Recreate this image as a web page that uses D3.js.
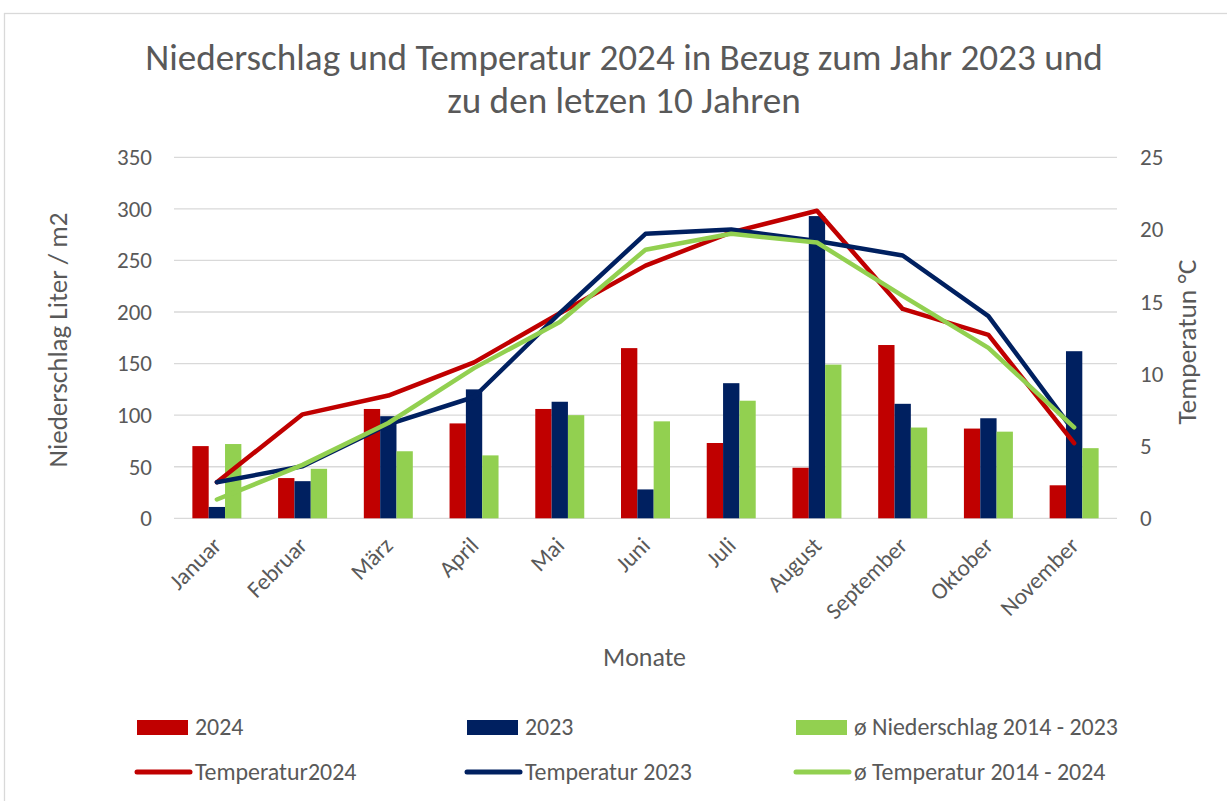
<!DOCTYPE html>
<html>
<head>
<meta charset="utf-8">
<script src="https://cdn.jsdelivr.net/npm/d3@7"></script>
<style>
    body { margin: 0; background: #fff; }
    svg text { font-family: Calibri, Carlito, Lato, sans-serif; fill: #595959; }
</style>
</head>
<body>
<svg id="chart" width="1227" height="801"></svg>
<script>
const months = ["Januar", "Februar", "März", "April", "Mai", "Juni", "Juli", "August", "September", "Oktober", "November"];
const rain2024 = [70, 39, 106, 92, 106, 165, 73, 49, 168, 87, 32];
const rain2023 = [11, 36, 99, 125, 113, 28, 131, 293, 111, 97, 162];
const rainAvg = [72, 48, 65, 61, 100, 94, 114, 149, 88, 84, 68];
const temp2024 = [2.5, 7.2, 8.5, 10.8, 14.2, 17.5, 19.8, 21.3, 14.5, 12.7, 5.2];
const temp2023 = [2.5, 3.6, 6.5, 8.4, 14.2, 19.7, 20.0, 19.2, 18.2, 14.0, 6.0];
const tempAvg = [1.3, 3.7, 6.6, 10.4, 13.6, 18.6, 19.7, 19.1, 15.4, 11.8, 6.3];
const leftTicks = [0, 50, 100, 150, 200, 250, 300, 350];
const rightTicks = [0, 5, 10, 15, 20, 25];

const barSeries = [
    { name: "2024", values: rain2024, color: "#c00000" },
    { name: "2023", values: rain2023, color: "#002060" },
    { name: "ø Niederschlag 2014 - 2023", values: rainAvg, color: "#92d050" }
];
const lineSeries = [
    { name: "Temperatur2024", values: temp2024, color: "#c00000" },
    { name: "Temperatur 2023", values: temp2023, color: "#002060" },
    { name: "ø Temperatur 2014 - 2024", values: tempAvg, color: "#92d050" }
];

const svg = d3.select("#chart");
const plot = { left: 174, right: 1117, top: 157.3, bottom: 518.3 };

// outer chart border
svg.append("rect")
    .attr("x", 4.5).attr("y", 13.5)
    .attr("width", 1400).attr("height", 1000)
    .attr("fill", "none").attr("stroke", "#d9d9d9").attr("stroke-width", 1.3);

// no Calibri here, so scale the font until a text is as wide as in the original
function fitSize(text, target, size) {
    let probe = svg.append("text").attr("font-size", size).text(text);
    let w = probe.node().getComputedTextLength();
    probe.remove();
    return size * target / w;
}

const titleSize = fitSize("Niederschlag und Temperatur 2024 in Bezug zum Jahr 2023 und", 958, 30);
const tickSize = fitSize("350", 35, 20);
const monthSize = fitSize("September", 104, 20);
const legendSize = fitSize("ø Niederschlag 2014 - 2023", 264, 20);

svg.append("text").attr("x", 624).attr("y", 70).attr("text-anchor", "middle")
    .attr("font-size", titleSize).text("Niederschlag und Temperatur 2024 in Bezug zum Jahr 2023 und");
svg.append("text").attr("x", 624).attr("y", 113).attr("text-anchor", "middle")
    .attr("font-size", titleSize).text("zu den letzen 10 Jahren");

const x = d3.scaleBand().domain(months).range([plot.left, plot.right]).padding(0);
const yLeft = d3.scaleLinear().domain([0, 350]).range([plot.bottom, plot.top]);
const yRight = d3.scaleLinear().domain([0, 25]).range([plot.bottom, plot.top]);

// gap width 225% like excel
const barW = x.bandwidth() / (3 + 2.25);
const groupOffset = (x.bandwidth() - 3 * barW) / 2;

// gridlines
svg.append("g").selectAll("line").data(leftTicks).join("line")
    .attr("x1", plot.left).attr("x2", plot.right)
    .attr("y1", d => yLeft(d)).attr("y2", d => yLeft(d))
    .attr("stroke", "#d9d9d9").attr("stroke-width", 1.3);

// left axis
let leftAxis = svg.append("g").attr("transform", "translate(" + (plot.left - 12) + ",0)")
    .call(d3.axisLeft(yLeft).tickValues(leftTicks).tickSize(0).tickPadding(10));
leftAxis.select(".domain").remove();
leftAxis.selectAll("text").attr("font-size", tickSize).style("font-family", null).attr("fill", "#595959");

// right axis
let rightAxis = svg.append("g").attr("transform", "translate(" + (plot.right + 13) + ",0)")
    .call(d3.axisRight(yRight).tickValues(rightTicks).tickSize(0).tickPadding(10));
rightAxis.select(".domain").remove();
rightAxis.selectAll("text").attr("font-size", tickSize).style("font-family", null).attr("fill", "#595959");

// axis titles
svg.append("text").attr("transform", "translate(67,340) rotate(-90)")
    .attr("text-anchor", "middle").attr("font-size", fitSize("Niederschlag Liter / m2", 255, 20))
    .text("Niederschlag Liter / m2");
svg.append("text").attr("transform", "translate(1196,342) rotate(-90)")
    .attr("text-anchor", "middle").attr("font-size", fitSize("Temperatun °C", 165, 20))
    .text("Temperatun °C");
svg.append("text").attr("x", 644.5).attr("y", 666)
    .attr("text-anchor", "middle").attr("font-size", fitSize("Monate", 83, 20)).text("Monate");

// month labels
svg.append("g").selectAll("text").data(months).join("text")
    .attr("transform", d => "translate(" + (x(d) + x.bandwidth() / 2 + 6) + ",547) rotate(-45)")
    .attr("text-anchor", "end").attr("font-size", monthSize).text(d => d);

// bars
barSeries.forEach(function (s, i) {
    svg.append("g").selectAll("rect").data(s.values).join("rect")
        .attr("x", (d, j) => x(months[j]) + groupOffset + i * barW)
        .attr("width", barW)
        .attr("y", d => yLeft(d))
        .attr("height", d => plot.bottom - yLeft(d))
        .attr("fill", s.color);
});

// temperature lines
const line = d3.line()
    .x((d, j) => x(months[j]) + x.bandwidth() / 2)
    .y(d => yRight(d));
lineSeries.forEach(function (s) {
    svg.append("path").datum(s.values)
        .attr("d", line)
        .attr("fill", "none")
        .attr("stroke", s.color)
        .attr("stroke-width", 4.5)
        .attr("stroke-linejoin", "round")
        .attr("stroke-linecap", "round");
});

// legend
const legendX = [137, 467, 796];
barSeries.forEach(function (s, i) {
    svg.append("rect").attr("x", legendX[i]).attr("y", 720)
        .attr("width", 51).attr("height", 15).attr("fill", s.color);
    svg.append("text").attr("x", legendX[i] + 58).attr("y", 735)
        .attr("font-size", legendSize).text(s.name);
});
lineSeries.forEach(function (s, i) {
    svg.append("line").attr("x1", legendX[i]).attr("x2", legendX[i] + 53)
        .attr("y1", 772).attr("y2", 772)
        .attr("stroke", s.color).attr("stroke-width", 5).attr("stroke-linecap", "round");
    svg.append("text").attr("x", legendX[i] + 58).attr("y", 780)
        .attr("font-size", legendSize).text(s.name);
});
</script>
</body>
</html>
